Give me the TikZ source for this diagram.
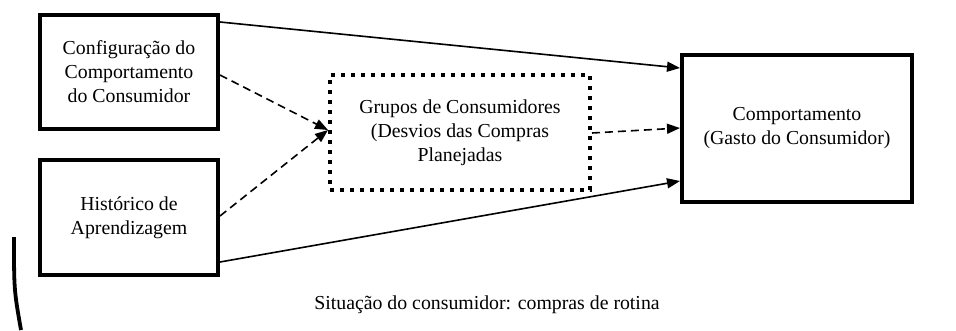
\documentclass[tikz,border=0pt]{standalone}
\usepackage{fontspec}
\setmainfont{Liberation Serif}
\usetikzlibrary{arrows.meta}
\begin{document}
\begin{tikzpicture}[x=1pt,y=-1pt,
  thickbox/.style={draw,line width=4pt,align=center,inner sep=0pt,font=\fontsize{19.8}{24}\selectfont},
  dotbox/.style={draw,line width=4pt,dash pattern=on 4pt off 6pt,align=center,inner sep=0pt,font=\fontsize{19.8}{24}\selectfont},
  solidarrow/.style={line width=1.6pt,-{Triangle[length=13pt,width=10pt]}},
  dasharrow/.style={line width=1.6pt,dash pattern=on 8pt off 5pt,-{Triangle[length=13pt,width=10pt]}}]
\useasboundingbox (0,0) rectangle (956,330);
\node[thickbox,minimum width=178pt,minimum height=114pt] (A) at (129,71.5) {Configuração do\\Comportamento\\do Consumidor};
\node[thickbox,minimum width=178pt,minimum height=115pt] (B) at (129,217.5) {Histórico de\\Aprendizagem};
\node[dotbox,minimum width=260pt,minimum height=115pt] (C) at (460,132.5) {Grupos de Consumidores\\(Desvios das Compras\\Planejadas};
\node[thickbox,minimum width=230pt,minimum height=147pt] (D) at (797,128.5) {Comportamento\\(Gasto do Consumidor)};
\node[font=\fontsize{19.8}{24}\selectfont] (T) at (487,305) {Situação do consumidor: compras de rotina};
\coordinate (A1) at (220,22);
\coordinate (D1) at (680,68);
\coordinate (A2) at (220,75);
\coordinate (B2) at (220,216);
\coordinate (C2) at (328,130);
\coordinate (C3) at (592,133);
\coordinate (D3) at (680,128);
\coordinate (B4) at (220,262);
\coordinate (D4) at (680,181);
\draw[solidarrow] (A1) -- (D1);
\draw[dasharrow] (A2) -- (C2);
\draw[dasharrow] (B2) -- (C2);
\draw[dasharrow] (C3) -- (D3);
\draw[solidarrow] (B4) -- (D4);
\coordinate (L1) at (14,237);
\coordinate (L2) at (21,330);
\draw[line width=3.8pt] (L1) .. controls (14,290) .. (L2);
\end{tikzpicture}
\end{document}
